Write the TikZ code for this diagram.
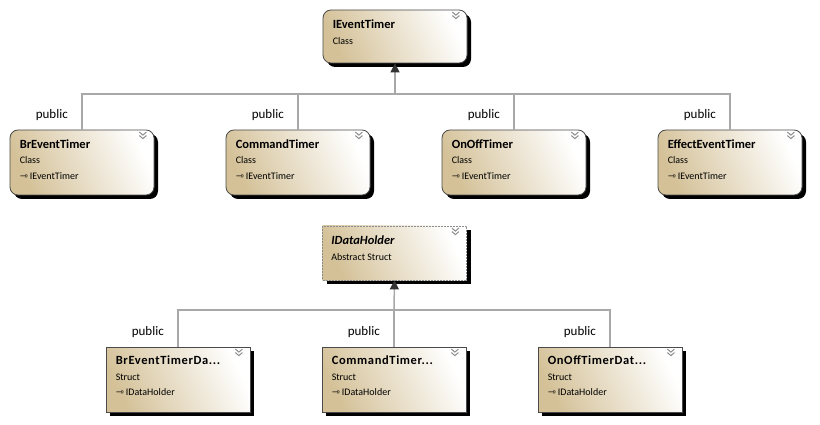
\documentclass[tikz,border=0pt]{standalone}
\usepackage{fontspec}
\setmainfont{Carlito}
\newfontfamily\arrowfont{DejaVu Sans}
\usetikzlibrary{positioning, shadows, arrows.meta}
\definecolor{colorTan}{HTML}{D4C198}
\definecolor{colorEdge}{HTML}{4A4A4A}
\definecolor{colorLink}{HTML}{A8A8A8}
\definecolor{colorChev}{HTML}{8C8C8C}
\newcommand{\titlefont}{\fontsize{12.5}{15}\selectfont\bfseries}
\newcommand{\wideTitle}{\titlefont\addfontfeatures{LetterSpace=5}}
\newcommand{\inh}{{\arrowfont\fontsize{10}{15}\selectfont ⇾}\,}
\newcommand{\chevron}[1]{%
  \draw[chev] ([shift={(-15,2.5)}]#1.north east) -- ++(3.5,3) -- ++(3.5,-3);
  \draw[chev] ([shift={(-15,6)}]#1.north east) -- ++(3.5,3) -- ++(3.5,-3);}
\tikzset{
  typebox/.style={draw=colorEdge, line width=0.8pt, minimum width=144pt, minimum height=65pt, inner sep=0pt,
    left color=colorTan, right color=white, shading angle=115,
    drop shadow={shadow xshift=4pt, shadow yshift=-4pt, fill=black, opacity=1}},
  classbox/.style={typebox, rounded corners=8pt},
  structbox/.style={typebox, sharp corners},
  abstractbox/.style={structbox, draw=colorChev, dash pattern=on 2pt off 1pt, minimum height=54pt},
  typetext/.style={anchor=north west, inner sep=0pt, align=left, font=\fontsize{10}{15.5}\selectfont},
  pub/.style={inner sep=0pt, font=\fontsize{13}{15}\selectfont},
  link/.style={draw=colorLink, line width=1.5pt},
  inherit/.style={link, -{Triangle[width=9pt, length=9pt, fill=black!80, color=black!80]}},
  chev/.style={draw=colorChev, line width=1pt}
}
\begin{document}
\begin{tikzpicture}[x=1pt, y=-1pt]
    \fill[white] (0,0) rectangle (820,425);

    \begin{scope}
        \node[classbox, minimum height=53pt] (iet) at (395,36.5) {};
        \node[typetext] (ietT) at ([shift={(10,10)}]iet.north west) {{\titlefont IEventTimer}\\Class};
        \chevron{iet}

        \node[classbox] (br) at (82,162.5) {};
        \node[typetext] (brT) at ([shift={(10,9.5)}]br.north west) {{\titlefont BrEventTimer}\\Class\\\inh IEventTimer};
        \chevron{br}

        \node[classbox] (cmd) at (298,162.5) {};
        \node[typetext] (cmdT) at ([shift={(10,9.5)}]cmd.north west) {{\titlefont CommandTimer}\\Class\\\inh IEventTimer};
        \chevron{cmd}

        \node[classbox] (onoff) at (514,162.5) {};
        \node[typetext] (onoffT) at ([shift={(10,9.5)}]onoff.north west) {{\titlefont OnOffTimer}\\Class\\\inh IEventTimer};
        \chevron{onoff}

        \node[classbox] (fx) at (730,162.5) {};
        \node[typetext] (fxT) at ([shift={(10,9.5)}]fx.north west) {{\titlefont EffectEventTimer}\\Class\\\inh IEventTimer};
        \chevron{fx}

        \coordinate (busT) at (395,94);
        \draw[link] (br.north) |- (busT);
        \draw[link] (cmd.north) |- (busT);
        \draw[link] (onoff.north) |- (busT);
        \draw[link] (fx.north) |- (busT);
        \draw[inherit] (busT) -- (iet.south);

        \node[pub, above left=9pt and 14pt of br.north] (pubBr) {public};
        \node[pub, above left=9pt and 14pt of cmd.north] (pubCmd) {public};
        \node[pub, above left=9pt and 14pt of onoff.north] (pubOnoff) {public};
        \node[pub, above left=9pt and 14pt of fx.north] (pubFx) {public};
    \end{scope}

    \begin{scope}
        \node[abstractbox] (idh) at (394.5,253) {};
        \node[typetext] (idhT) at ([shift={(9,10)}]idh.north west) {{\titlefont\itshape IDataHolder}\\Abstract Struct};
        \chevron{idh}

        \node[structbox] (brD) at (178,379.5) {};
        \node[typetext] (brDT) at ([shift={(10,9)}]brD.north west) {{\wideTitle BrEventTimerDa...}\\Struct\\\inh IDataHolder};
        \chevron{brD}

        \node[structbox] (cmdD) at (394,379.5) {};
        \node[typetext] (cmdDT) at ([shift={(10,9)}]cmdD.north west) {{\wideTitle CommandTimer...}\\Struct\\\inh IDataHolder};
        \chevron{cmdD}

        \node[structbox] (onoffD) at (610,379.5) {};
        \node[typetext] (onoffDT) at ([shift={(10,9)}]onoffD.north west) {{\wideTitle OnOffTimerDat...}\\Struct\\\inh IDataHolder};
        \chevron{onoffD}

        \coordinate (busD) at (394,310);
        \draw[link] (brD.north) |- (busD);
        \draw[link] (cmdD.north) |- (busD);
        \draw[link] (onoffD.north) |- (busD);
        \draw[inherit] (busD) -- (idh.south);

        \node[pub, above left=9pt and 14pt of brD.north] (pubBrD) {public};
        \node[pub, above left=9pt and 14pt of cmdD.north] (pubCmdD) {public};
        \node[pub, above left=9pt and 14pt of onoffD.north] (pubOnoffD) {public};
    \end{scope}
\end{tikzpicture}
\end{document}
